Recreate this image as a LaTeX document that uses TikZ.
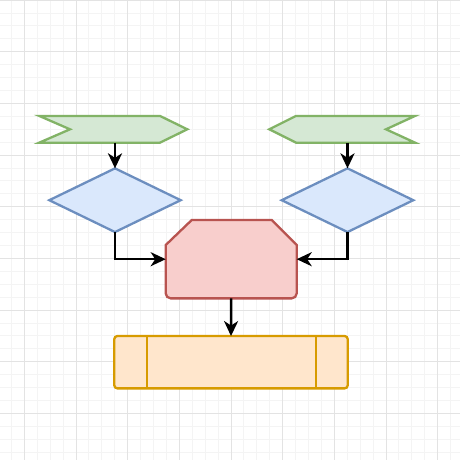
\documentclass[tikz,border=0pt]{standalone}
\usetikzlibrary{arrows.meta}
\definecolor{gminor}{HTML}{F4F4F4}
\definecolor{gmajor}{HTML}{E3E3E3}
\definecolor{gfill}{HTML}{D5E8D4}
\definecolor{gline}{HTML}{82B366}
\definecolor{bfill}{HTML}{DAE8FC}
\definecolor{bline}{HTML}{6C8EBF}
\definecolor{rfill}{HTML}{F8CECC}
\definecolor{rline}{HTML}{B85450}
\definecolor{ofill}{HTML}{FFE6CC}
\definecolor{oline}{HTML}{D79B00}
\tikzset{
  frame/.style={inner sep=0pt,outer sep=0pt,draw=none,minimum width=#1},
  greenshape/.style={fill=gfill,draw=gline,line width=2.3pt,line join=miter},
  blueshape/.style={fill=bfill,draw=bline,line width=2.3pt},
  redshape/.style={fill=rfill,draw=rline,line width=2.3pt},
  orangeshape/.style={fill=ofill,draw=oline,line width=2.3pt},
  conn/.style={draw=black,line width=2.4pt,-{Stealth[length=15pt,width=14pt,inset=4.5pt]}},
}
\begin{document}
\begin{tikzpicture}[x=1pt,y=-1pt]
\useasboundingbox (0,0) rectangle (460,460);
\fill[white] (0,0) rectangle (460,460);
% grid
\foreach \k in {0,...,36}{
  \draw[gminor,line width=0.8pt] ({11.38+12.917*\k},0) -- ++(0,460);
  \draw[gminor,line width=0.8pt] (0,{12.917*\k}) -- ++(460,0);
}
\foreach \k in {0,...,8}{
  \draw[gmajor,line width=0.8pt] ({24.3+51.67*\k},0) -- ++(0,460);
  \draw[gmajor,line width=0.8pt] (0,{51.67*\k}) -- ++(460,0);
}
% frames
\node[frame=148pt,minimum height=26.7pt] (f1) at (113.3,129.3) {};
\node[frame=145.7pt,minimum height=26.7pt] (f2) at (342.15,129.3) {};
\node[frame=131.4pt,minimum height=63.7pt] (d1) at (115,200.2) {};
\node[frame=131.6pt,minimum height=63.7pt] (d2) at (347.5,200.2) {};
\node[frame=131pt,minimum height=78.3pt] (r) at (231.2,259.2) {};
\node[frame=233.4pt,minimum height=52.3pt] (o) at (231,362.2) {};
% green step shapes
\path[greenshape] (f1.north west) -- ([xshift=-27.3pt]f1.north east) -- (f1.east)
  -- ([xshift=-27.3pt]f1.south east) -- (f1.south west) -- ([xshift=30.7pt]f1.west) -- cycle;
\path[greenshape] (f2.west) -- ([xshift=26.7pt]f2.north west) -- (f2.north east)
  -- ([xshift=-29pt]f2.east) -- (f2.south east) -- ([xshift=26.7pt]f2.south west) -- cycle;
% diamonds
\path[blueshape] (d1.north) -- (d1.east) -- (d1.south) -- (d1.west) -- cycle;
\path[blueshape] (d2.north) -- (d2.east) -- (d2.south) -- (d2.west) -- cycle;
% red loop limit
\path[redshape] ([xshift=26pt]r.north west) -- ([xshift=-25pt]r.north east)
  -- ([yshift=-25pt]r.north east) -- (r.east) {[rounded corners=5pt] -- (r.south east) -- (r.south west)} -- (r.west)
  -- ([yshift=-25pt]r.north west) -- cycle;
% orange process
\path[orangeshape,rounded corners=3pt] (o.north west) rectangle (o.south east);
\draw[oline,line width=2.3pt] ([xshift=33pt]o.north west) -- ([xshift=33pt]o.south west);
\draw[oline,line width=2.3pt] ([xshift=-31.7pt]o.north east) -- ([xshift=-31.7pt]o.south east);
% connectors
\draw[conn] (d1.north |- f1.south) -- (d1.north);
\draw[conn] (d2.north |- f2.south) -- (d2.north);
\draw[conn] (d1.south) |- (r.west);
\draw[conn] (d2.south) |- (r.east);
\draw[conn] (r.south) -- (o.north);
\end{tikzpicture}
\end{document}
